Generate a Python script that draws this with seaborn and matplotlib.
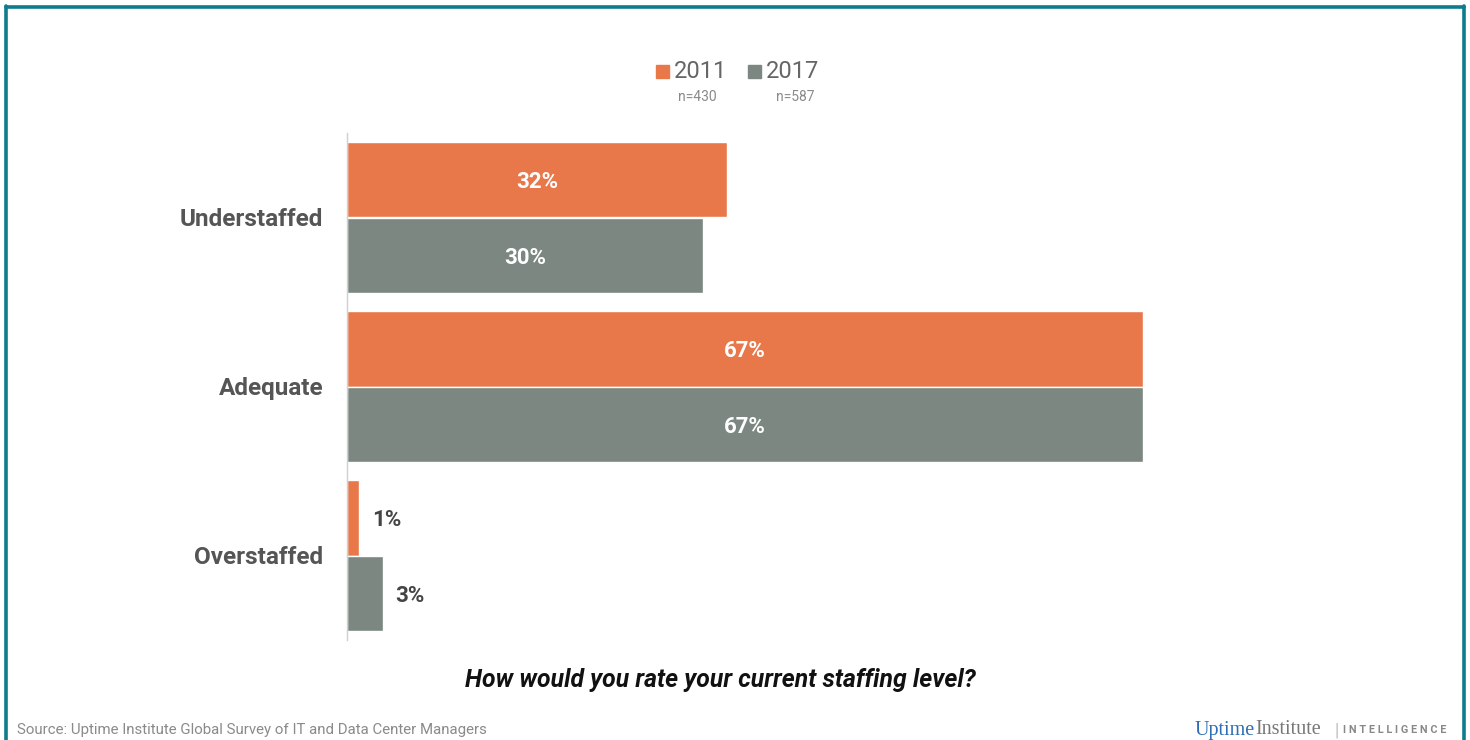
import matplotlib
matplotlib.use("Agg")
import matplotlib.pyplot as plt
from matplotlib.patches import Rectangle
import seaborn as sns
import pandas as pd

# Survey answers
categories = ["Understaffed", "Adequate", "Overstaffed"]
years = ["2011", "2017"]
sample_sizes = ["n=430", "n=587"]
values_2011 = [32, 67, 1]
values_2017 = [30, 67, 3]

ORANGE = "#E8784A"
GRAY = "#7B8780"
TEAL = "#0E7C8C"
LABEL_GRAY = "#555555"

sns.set_theme(style="white")
plt.rcParams["font.family"] = ["Roboto", "DejaVu Sans"]

df = pd.DataFrame({
    "category": categories * 2,
    "year": [years[0]] * 3 + [years[1]] * 3,
    "value": values_2011 + values_2017,
})

fig = plt.figure(figsize=(14.7, 7.4), dpi=100)
ax = fig.add_axes([347 / 1470, 100 / 740, 950 / 1470, 507 / 740])

sns.barplot(data=df, y="category", x="value", hue="year", order=categories,
            hue_order=years, palette=[ORANGE, GRAY], orient="h",
            width=0.888, gap=0, saturation=1, legend=False, ax=ax)

ax.set_xlim(0, 80)
ax.set_ylim(2.5, -0.5)
ax.set_xlabel("")
ax.set_ylabel("")
ax.set_xticks([])
for side in ["top", "right", "bottom"]:
    ax.spines[side].set_visible(False)
ax.spines["left"].set_color("#D0D0D0")
ax.spines["left"].set_linewidth(1.0)
ax.tick_params(axis="y", length=0, pad=17)
for lbl in ax.get_yticklabels():
    lbl.set_fontsize(17.5)
    lbl.set_fontweight("bold")
    lbl.set_color(LABEL_GRAY)

# Value labels: inside long bars, beside short ones
for container in ax.containers:
    for bar in container:
        w = bar.get_width()
        cy = bar.get_y() + bar.get_height() / 2
        txt = f"{w:.0f}%"
        if w >= 10:
            ax.text(w / 2, cy, txt, ha="center", va="center_baseline", color="white",
                    fontsize=16, fontweight="bold")
        else:
            ax.text(w + 1.1, cy, txt, ha="left", va="center_baseline", color="#444444",
                    fontsize=16, fontweight="bold")

# Legend with sample sizes beneath each year
leg_items = [(656, ORANGE, years[0], sample_sizes[0], 697),
             (748, GRAY, years[1], sample_sizes[1], 795)]
for x0, col, yr, n, nx in leg_items:
    fig.patches.append(Rectangle((x0 / 1470, (740 - 78) / 740), 13 / 1470, 13 / 740,
                                 transform=fig.transFigure, color=col))
    fig.text((x0 + 18) / 1470, (740 - 71) / 740, yr, ha="left", va="center",
             fontsize=17, color="#666666")
    fig.text(nx / 1470, (740 - 97) / 740, n, ha="center", va="center",
             fontsize=10, color="#8A8A8A")

# Question caption
fig.text(720 / 1470, (740 - 680) / 740, "How would you rate your current staffing level?",
         ha="center", va="center", fontsize=17.8, fontweight="bold",
         fontstyle="italic", color="#111111")

# Footer
fig.text(17 / 1470, (740 - 730) / 740,
         "Source: Uptime Institute Global Survey of IT and Data Center Managers",
         ha="left", va="center", fontsize=10.8, color="#8A8A8A")
serif = ["Liberation Serif", "DejaVu Serif"]
t1 = fig.text(1195 / 1470, (740 - 730) / 740, "Uptime", ha="left", va="center",
              fontsize=14.5, color="#2E6DB4", family=serif)
fig.canvas.draw()
bb = t1.get_window_extent()
fig.text(bb.x1 / 1470, (740 - 730) / 740, "Institute", ha="left", va="center",
         fontsize=14.5, color="#777777", family=serif)
fig.text(1334 / 1470, (740 - 730) / 740, "|", ha="left", va="center",
         fontsize=13, color="#BBBBBB")
fig.text(1343 / 1470, (740 - 730) / 740, "I N T E L L I G E N C E", ha="left",
         va="center", fontsize=7.8, fontweight="bold", color="#888888")

# Teal frame around the chart
frame_color = TEAL
fig.add_artist(plt.Line2D([5.5 / 1470, 5.5 / 1470], [0, (740 - 5.5) / 740],
                          transform=fig.transFigure, color=frame_color, lw=2.6))
fig.add_artist(plt.Line2D([1464 / 1470, 1464 / 1470], [0, (740 - 5.5) / 740],
                          transform=fig.transFigure, color=frame_color, lw=2.6))
fig.add_artist(plt.Line2D([5.5 / 1470, 1464 / 1470], [(740 - 7) / 740, (740 - 7) / 740],
                          transform=fig.transFigure, color=frame_color, lw=2.6))

fig.savefig("out.png", dpi=100, facecolor="white")
